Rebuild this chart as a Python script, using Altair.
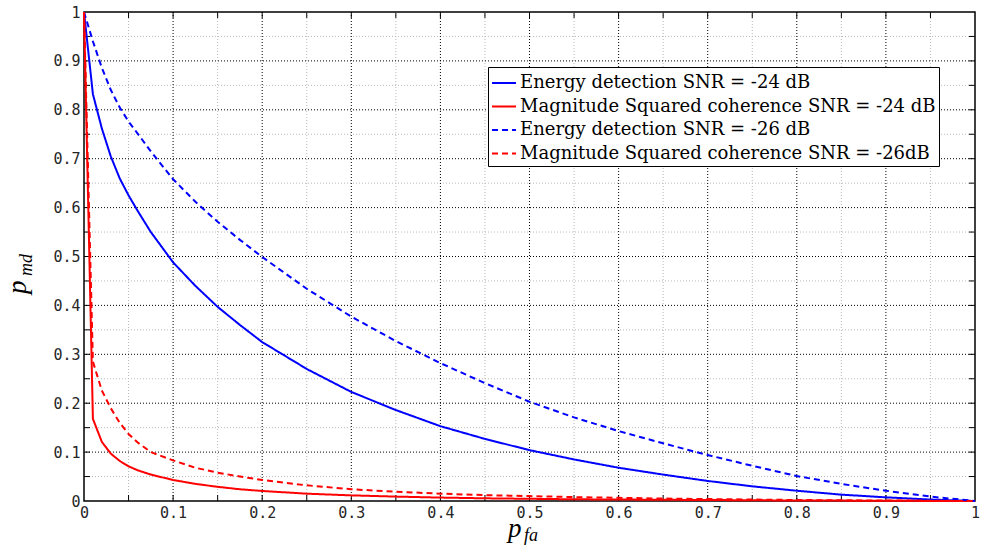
import altair as alt
import pandas as pd

# ---- data ----
pfa = [0, 0.01, 0.02, 0.03, 0.04, 0.05, 0.06, 0.075, 0.1, 0.125, 0.15, 0.175, 0.2,
       0.25, 0.3, 0.35, 0.4, 0.45, 0.5, 0.55, 0.6, 0.65, 0.7, 0.75, 0.8,
       0.85, 0.9, 0.95, 1.0]
ed_24 = [1, 0.832, 0.762, 0.705, 0.66, 0.625, 0.594, 0.55, 0.488, 0.44, 0.397, 0.36, 0.325,
         0.27, 0.223, 0.186, 0.153, 0.127, 0.104, 0.085, 0.068, 0.054, 0.041, 0.030, 0.021,
         0.013, 0.0075, 0.003, 0]
msc_24 = [1, 0.168, 0.121, 0.097, 0.082, 0.071, 0.063, 0.054, 0.043, 0.035, 0.029, 0.024, 0.0205,
          0.015, 0.0115, 0.009, 0.007, 0.0055, 0.0045, 0.0035, 0.003, 0.0025, 0.002, 0.0015, 0.001,
          0.0008, 0.0005, 0.0002, 0]
ed_26 = [1, 0.94, 0.886, 0.841, 0.805, 0.776, 0.752, 0.715, 0.658, 0.612, 0.571, 0.534, 0.499,
         0.434, 0.377, 0.327, 0.282, 0.241, 0.203, 0.171, 0.143, 0.118, 0.094, 0.072, 0.051,
         0.035, 0.021, 0.009, 0]
msc_26 = [1, 0.285, 0.226, 0.19, 0.16, 0.137, 0.12, 0.10, 0.083, 0.068, 0.058, 0.05, 0.043,
          0.032, 0.024, 0.019, 0.015, 0.012, 0.010, 0.008, 0.0065, 0.005, 0.004, 0.003, 0.002,
          0.0015, 0.001, 0.0005, 0]

series_names = [
    "Energy detection SNR = -24 dB",
    "Magnitude Squared coherence SNR = -24 dB",
    "Energy detection SNR = -26 dB",
    "Magnitude Squared coherence SNR = -26dB",
]
series_values = [ed_24, msc_24, ed_26, msc_26]
series_colors = ["#0000ff", "#ff0000", "#0000ff", "#ff0000"]
series_dash = [[1, 0], [1, 0], [6, 4], [6, 4]]

tick_values = [round(i * 0.1, 1) for i in range(11)]
major_grid = [round(i * 0.1, 1) for i in range(1, 10)]
minor_grid = [round(0.05 + i * 0.1, 2) for i in range(10)]
all_ticks = [round(i * 0.05, 2) for i in range(1, 20)]

rows = []
for name, vals in zip(series_names, series_values):
    for xv, yv in zip(pfa, vals):
        rows.append({"series": name, "pfa": xv, "pmd": yv})
df = pd.DataFrame(rows)

W, H = 891, 489

xscale = alt.Scale(domain=[0, 1], nice=False, zero=False)
yscale = alt.Scale(domain=[0, 1], nice=False, zero=False)
xaxis = alt.Axis(values=tick_values, format="~g", ticks=False, grid=False, domain=False,
                 title=None, labelFont="DejaVu Sans Mono", labelFontSize=15,
                 labelColor="#262626", labelPadding=4, labelFlush=False)
yaxis = alt.Axis(values=tick_values, format="~g", ticks=False, grid=False, domain=False,
                 title=None, labelFont="DejaVu Sans Mono", labelFontSize=15,
                 labelColor="#262626", labelPadding=4)

def X(field):
    return alt.X(field, type="quantitative", scale=xscale, axis=xaxis)

def Y(field):
    return alt.Y(field, type="quantitative", scale=yscale, axis=yaxis)

gx_major = alt.Chart(pd.DataFrame({"v": major_grid})).mark_rule(
    color="black", strokeDash=[1, 2], strokeWidth=1).encode(x=X("v"))
gy_major = alt.Chart(pd.DataFrame({"v": major_grid})).mark_rule(
    color="black", strokeDash=[1, 2], strokeWidth=1).encode(y=Y("v"))
gx_minor = alt.Chart(pd.DataFrame({"v": minor_grid})).mark_rule(
    color="#b8b8b8", strokeDash=[1, 2], strokeWidth=1).encode(x=X("v"))
gy_minor = alt.Chart(pd.DataFrame({"v": minor_grid})).mark_rule(
    color="#b8b8b8", strokeDash=[1, 2], strokeWidth=1).encode(y=Y("v"))

tdf = pd.DataFrame({"v": all_ticks})
tick_style = dict(color="black", strokeWidth=1)
t_bottom = alt.Chart(tdf).mark_rule(**tick_style).encode(
    x=X("v"), y=alt.value(H), y2=alt.value(H - 6))
t_top = alt.Chart(tdf).mark_rule(**tick_style).encode(
    x=X("v"), y=alt.value(0), y2=alt.value(6))
t_left = alt.Chart(tdf).mark_rule(**tick_style).encode(
    y=Y("v"), x=alt.value(0), x2=alt.value(6))
t_right = alt.Chart(tdf).mark_rule(**tick_style).encode(
    y=Y("v"), x=alt.value(W), x2=alt.value(W - 6))

lines = alt.Chart(df).mark_line(strokeWidth=2).encode(
    x=X("pfa"),
    y=Y("pmd"),
    color=alt.Color("series:N", title=None,
                    scale=alt.Scale(domain=series_names, range=series_colors)),
    strokeDash=alt.StrokeDash("series:N", title=None,
                              scale=alt.Scale(domain=series_names, range=series_dash)),
    order=alt.Order("pfa:Q"),
)

one = pd.DataFrame({"k": [0]})
serif = "Liberation Serif"
xt_p = alt.Chart(one).mark_text(font=serif, fontStyle="italic", fontSize=27,
                                align="left", baseline="alphabetic").encode(
    x=alt.value(424), y=alt.value(525), text=alt.value("p"))
xt_s = alt.Chart(one).mark_text(font=serif, fontStyle="italic", fontSize=18,
                                align="left", baseline="alphabetic").encode(
    x=alt.value(440), y=alt.value(529), text=alt.value("fa"))
yt_p = alt.Chart(one).mark_text(font=serif, fontStyle="italic", fontSize=27, angle=270,
                                align="left", baseline="alphabetic").encode(
    x=alt.value(-58), y=alt.value(282), text=alt.value("p"))
yt_s = alt.Chart(one).mark_text(font=serif, fontStyle="italic", fontSize=18, angle=270,
                                align="left", baseline="alphabetic").encode(
    x=alt.value(-52), y=alt.value(264), text=alt.value("md"))

chart = alt.layer(
    gx_minor, gy_minor, gx_major, gy_major,
    t_bottom, t_top, t_left, t_right,
    lines, xt_p, xt_s, yt_p, yt_s,
).properties(
    width=W, height=H,
    padding={"left": 84, "top": 12, "right": 6, "bottom": 44},
    autosize="none",
    background="white",
).configure_view(
    stroke="black", strokeWidth=1.5,
).configure_legend(
    orient="none", legendX=404, legendY=55,
    fillColor="white", strokeColor="black", padding=3, cornerRadius=0,
    symbolType="stroke", symbolSize=576, symbolStrokeWidth=2,
    labelFont="DejaVu Serif", labelFontSize=18, labelColor="black",
    labelLimit=600, rowPadding=1.5, labelOffset=3,
)

chart.save("out.html", embed_options={"renderer": "svg", "actions": False})
